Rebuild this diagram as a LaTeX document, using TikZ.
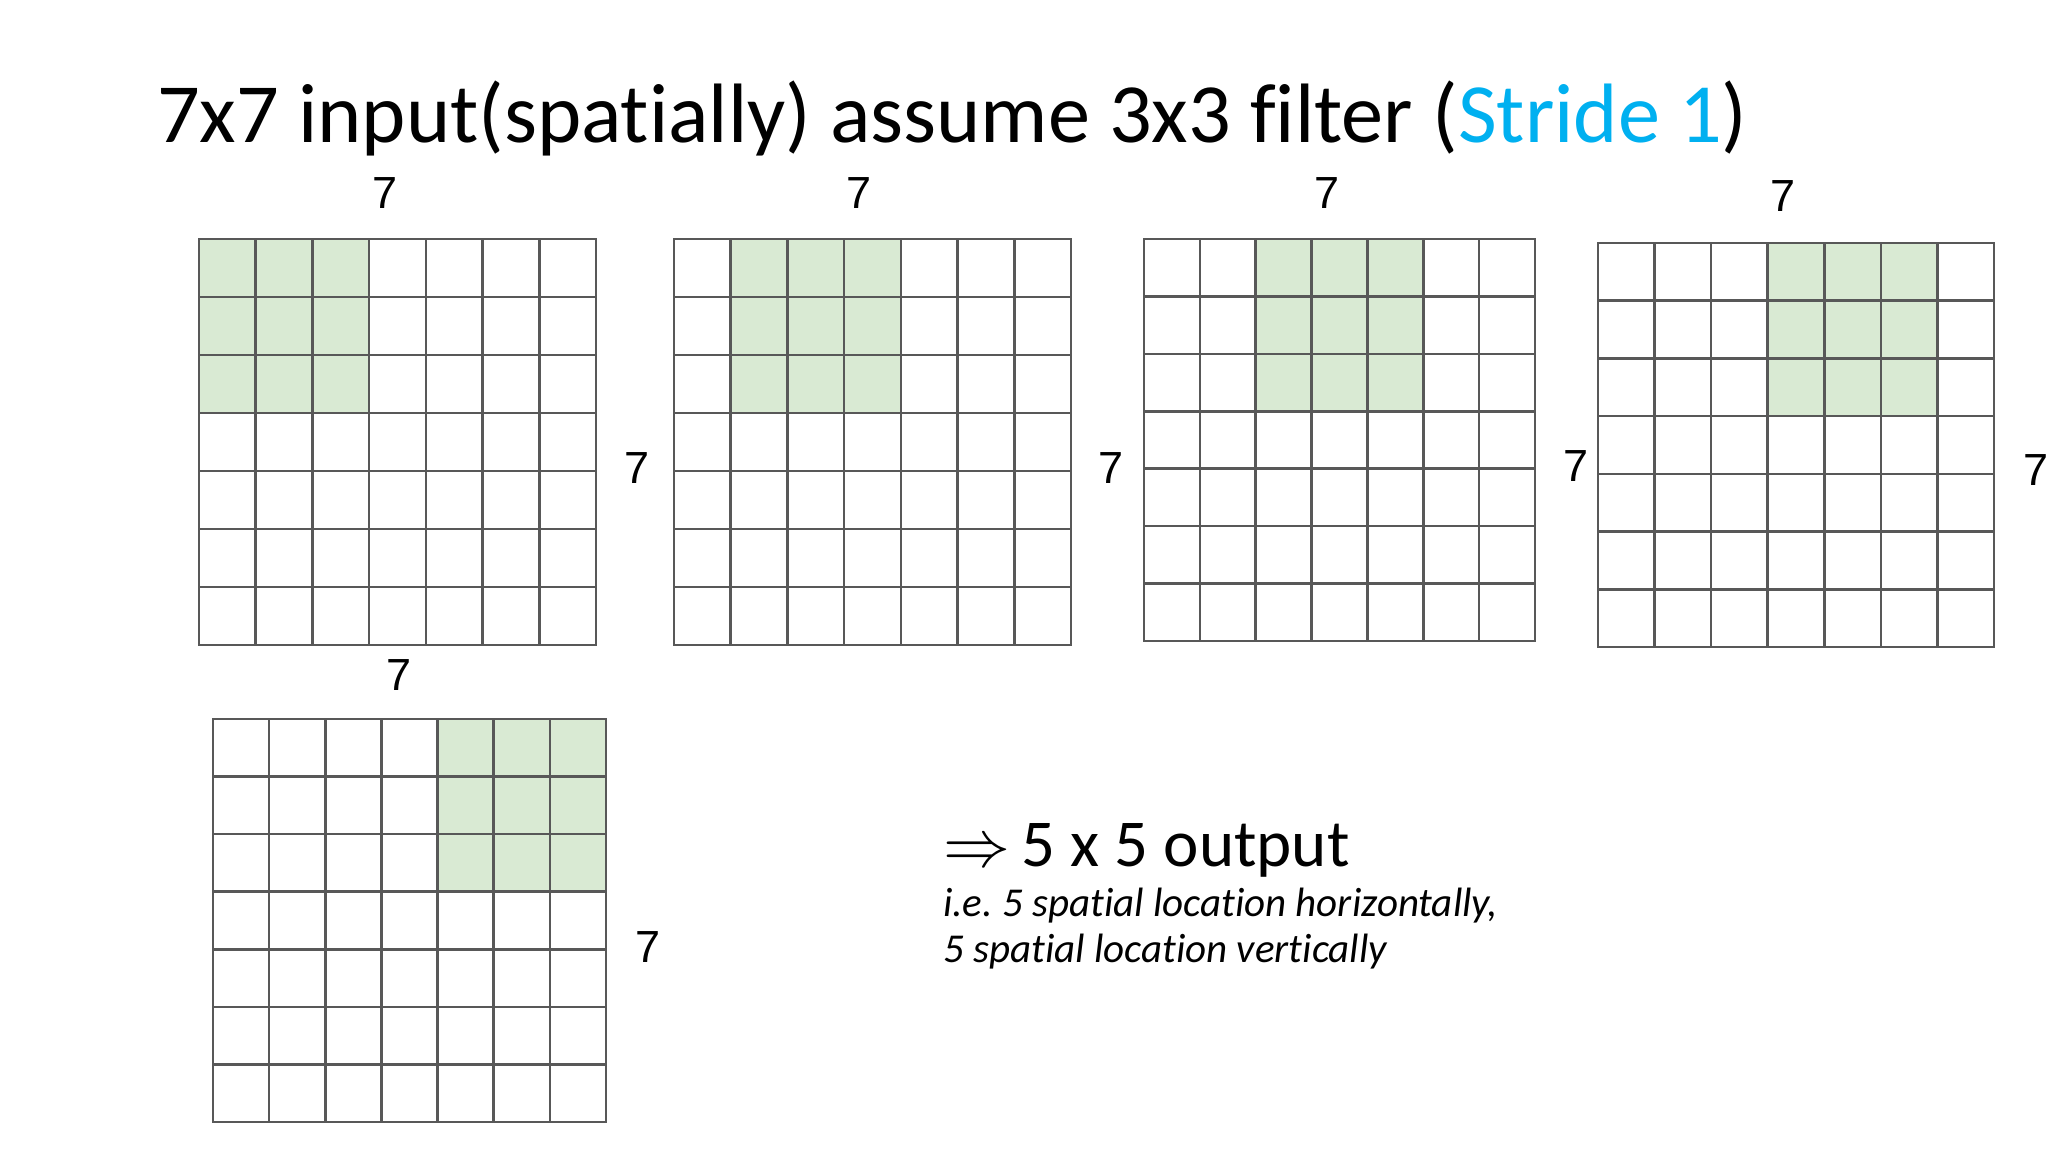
\RequirePackage{fix-cm}
\documentclass[tikz,border=0pt]{standalone}
\usepackage{fontspec}
\setmainfont{Carlito}[Ligatures=CommonOff]
\newfontfamily\arialf{Liberation Sans}
\definecolor{gline}{RGB}{88,88,88}
\definecolor{gfill}{RGB}{217,234,211}
\definecolor{strideblue}{RGB}{0,176,240}
\newcommand\mygrid[5]{%
  \pgfmathsetmacro\cw{(#3-#1)/7}%
  \pgfmathsetmacro\ch{(#4-#2)/7}%
  \fill[gfill] ({#1+#5*\cw},#2) rectangle ({#1+(#5+3)*\cw},{#2+3*\ch});
  \foreach \i in {0,...,7}{%
    \draw[gridline] ({#1+\i*\cw},#2) -- ({#1+\i*\cw},#4);
    \draw[gridline] (#1,{#2+\i*\ch}) -- (#3,{#2+\i*\ch});
  }%
}
\tikzset{
  gridline/.style={draw=gline,line width=2.6pt,line cap=rect},
  dimlab/.style={font=\arialf\fontsize{45}{45}\selectfont,inner sep=0pt,anchor=center},
}
\frenchspacing
\begin{document}
\begin{tikzpicture}[x=1pt,y=-1pt]
\fill[white] (0,0) rectangle (2048,1152);
\useasboundingbox (0,0) rectangle (2048,1152);
% title
\node[anchor=base west,inner sep=0pt] (title) at (157,142)
  {\fontsize{84.3}{86}\selectfont 7x7 input(spatially) assume 3x3 filter ({\color{strideblue}Stride 1})};
% grids
\mygrid{199}{239}{596}{645}{0}
\mygrid{674}{239}{1071}{645}{1}
\mygrid{1144}{239}{1535}{641}{2}
\mygrid{1598}{243}{1994}{647}{3}
\mygrid{213}{719}{606}{1122}{4}
% dimension labels
\node[dimlab] (t1) at (385,193) {7};
\node[dimlab] (r1) at (637,468) {7};
\node[dimlab] (t2) at (859,193) {7};
\node[dimlab] (r2) at (1111,468) {7};
\node[dimlab] (t3) at (1327,193) {7};
\node[dimlab] (r3) at (1576,466) {7};
\node[dimlab] (t4) at (1783,196) {7};
\node[dimlab] (r4) at (2036,470) {7};
\node[dimlab] (t5) at (399,675) {7};
\node[dimlab] (r5) at (648,947) {7};
% output text
\node[anchor=base west,inner sep=0pt] (out) at (943,866)
  {\fontsize{67}{67}\selectfont$\Rightarrow$\,5 x 5 output};
\node[anchor=base west,inner sep=0pt] (note1) at (943,916)
  {\itshape\fontsize{41}{41}\selectfont i.e. 5 spatial location horizontally,};
\node[anchor=base west,inner sep=0pt] (note2) at (943,962)
  {\itshape\fontsize{41}{41}\selectfont 5 spatial location vertically};
\end{tikzpicture}
\end{document}
